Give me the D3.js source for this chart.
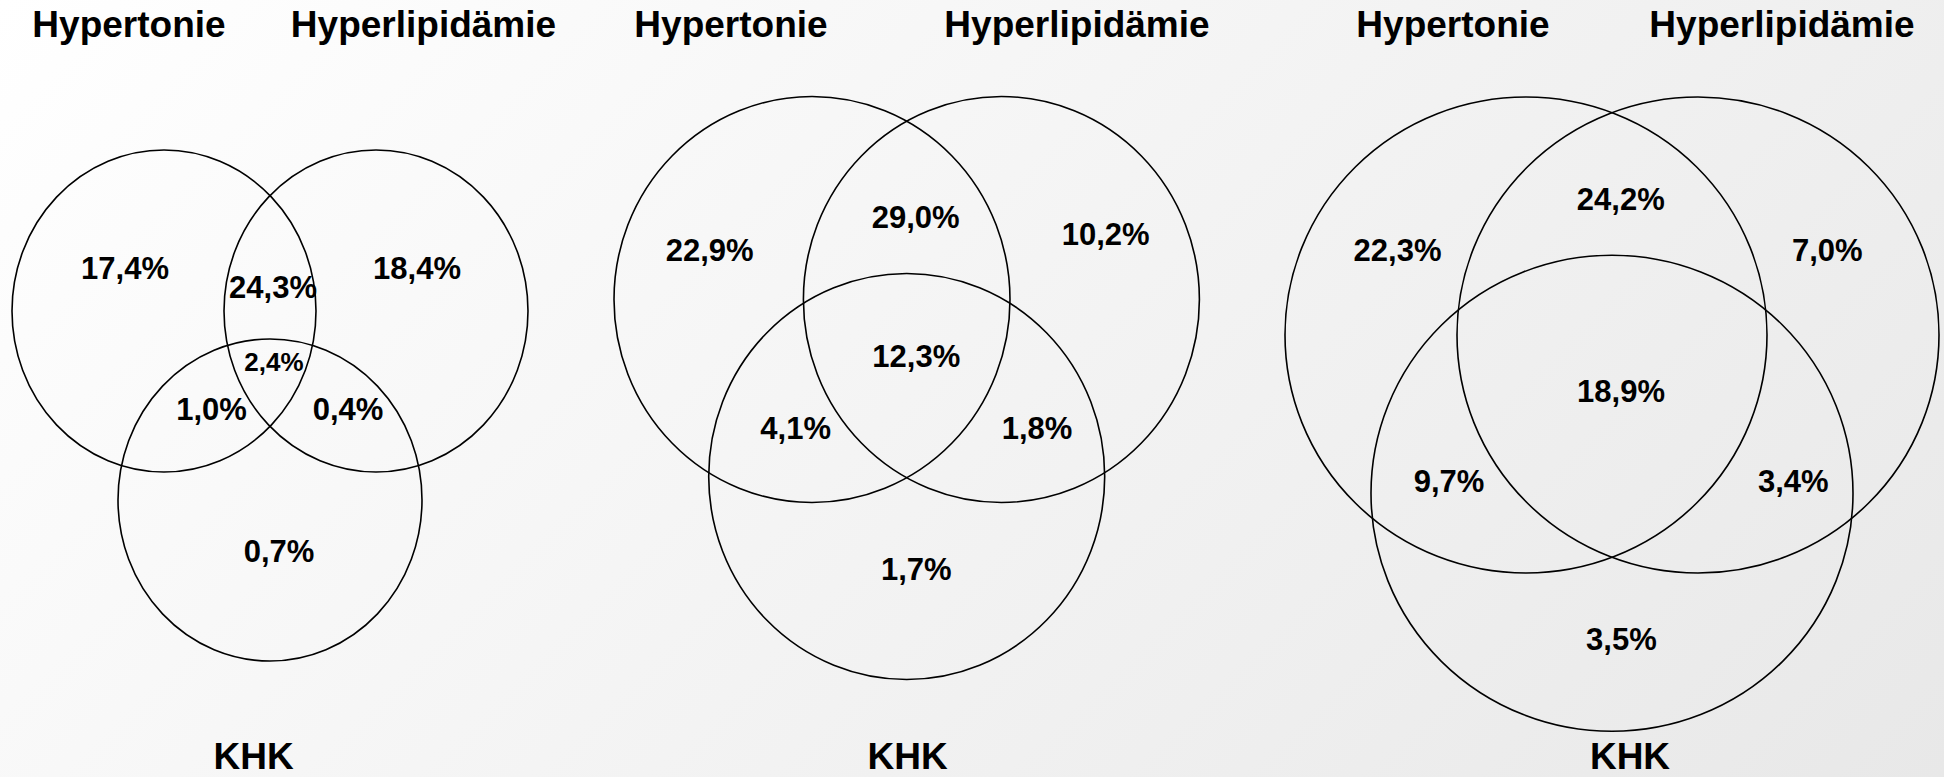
<!DOCTYPE html>
<html>
<head>
<meta charset="utf-8">
<script src="https://cdn.jsdelivr.net/npm/d3@7"></script>
<style>
  body { margin: 0; overflow: hidden; }
  text { font-family: "Liberation Sans", Arial, sans-serif; font-weight: bold; fill: #000; }
</style>
</head>
<body>
<svg width="1944" height="777"></svg>
<script>
// Data: share of patients (%) per Venn region, one array per diagram
var sets = ["Hypertonie", "Hyperlipidämie", "KHK"];
var regions = ["H", "L", "K", "HL", "HK", "LK", "HLK"];
var venn1 = [17.4, 18.4, 0.7, 24.3, 1.0, 0.4, 2.4];
var venn2 = [22.9, 10.2, 1.7, 29.0, 4.1, 1.8, 12.3];
var venn3 = [22.3, 7.0, 3.5, 24.2, 9.7, 3.4, 18.9];

var svg = d3.select("svg"),
    width = +svg.attr("width"),
    height = +svg.attr("height");

// German number format: 24,3%
var de = d3.formatLocale({decimal: ",", thousands: ".", grouping: [3], currency: ["", " €"]});
var fmt = function (v) { return de.format(".1f")(v) + "%"; };

// Layout of each diagram (centre of the set triangle, ellipse radii, offsets)
var layout = [
  {mx: 270, my: 311, rx: 152, ry: 161, sep: 106, drop: 189,
   titleX: [129, 423.5, 253.6], small: "HLK",
   labels: {H: [-145, -43], L: [147, -43], K: [9, 240], HL: [3, -24], HK: [-58.5, 98], LK: [78, 98], HLK: [4, 51]}},
  {mx: 906.7, my: 299.5, rx: 198, ry: 203, sep: 94.7, drop: 177,
   titleX: [731, 1077, 907.6], small: null,
   labels: {H: [-197, -50], L: [199, -66], K: [9.6, 269.5], HL: [9, -83], HK: [-111, 128.5], LK: [130.3, 128.5], HLK: [9.6, 56.5]}},
  {mx: 1612, my: 335, rx: 241, ry: 238, sep: 86, drop: 158.3,
   titleX: [1453, 1782, 1630], small: null,
   labels: {H: [-214.5, -85], L: [215.3, -85], K: [9.4, 304], HL: [8.8, -136.4], HK: [-163, 146], LK: [181.3, 146], HLK: [9, 56]}}
];
var values = [venn1, venn2, venn3];

// Background gradient
var defs = svg.append("defs");
var grad = defs.append("linearGradient")
    .attr("id", "bg")
    .attr("gradientUnits", "userSpaceOnUse")
    .attr("x1", 0).attr("y1", 0)
    .attr("x2", (width + height) / 2).attr("y2", (width + height) / 2);
grad.append("stop").attr("offset", 0).attr("stop-color", "#ffffff");
grad.append("stop").attr("offset", 1).attr("stop-color", "#e8e8e8");
svg.append("rect")
    .attr("width", width)
    .attr("height", height)
    .attr("fill", "url(#bg)");

layout.forEach(function (p, i) {
    var g = svg.append("g").attr("class", "venn");

    // set circles: Hypertonie left, Hyperlipidämie right, KHK below
    var centres = [
        [p.mx - p.sep, p.my],
        [p.mx + p.sep, p.my],
        [p.mx, p.my + p.drop]
    ];
    g.selectAll("ellipse")
        .data(centres)
        .enter().append("ellipse")
            .attr("cx", function (d) { return d[0]; })
            .attr("cy", function (d) { return d[1]; })
            .attr("rx", p.rx)
            .attr("ry", p.ry)
            .attr("fill", "none")
            .attr("stroke", "#000")
            .attr("stroke-width", 1.6);

    // region values
    g.selectAll("text.value")
        .data(regions.map(function (r, j) { return {region: r, value: values[i][j]}; }))
        .enter().append("text")
            .attr("class", "value")
            .attr("text-anchor", "middle")
            .attr("font-size", function (d) { return d.region === p.small ? 26 : 31; })
            .attr("x", function (d) { return p.mx + p.labels[d.region][0]; })
            .attr("y", function (d) {
                var fs = d.region === p.small ? 26 : 31;
                return p.my + p.labels[d.region][1] + fs * 0.36;
            })
            .text(function (d) { return fmt(d.value); });

    // set names
    g.selectAll("text.set")
        .data(sets)
        .enter().append("text")
            .attr("class", "set")
            .attr("text-anchor", "middle")
            .attr("font-size", 37)
            .attr("x", function (d, j) { return p.titleX[j]; })
            .attr("y", function (d, j) { return j < 2 ? 37 : 769; })
            .text(function (d) { return d; });
});
</script>
</body>
</html>
